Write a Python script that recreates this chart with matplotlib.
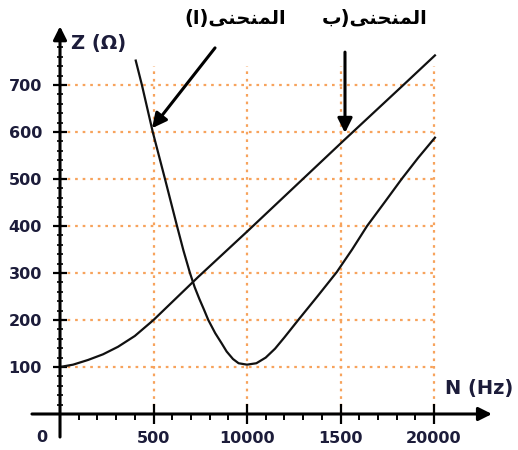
import matplotlib
matplotlib.use("Agg")
import matplotlib.pyplot as plt
from matplotlib.ticker import FixedLocator

# ---- data ----
freq_b = [0, 700, 1500, 2300, 3100, 4000, 5000, 7400, 10000, 15200, 18360, 20050]
z_b = [100, 105, 115, 127, 143, 166, 200, 292, 388, 583, 700, 763]

freq_a = [4050, 4380, 4960, 5615, 6257, 6600, 6950, 7200, 7450, 7700, 7930,
          8300, 8650, 8910, 9250, 9550, 10000, 10500, 11000, 11500, 12000,
          12400, 12740, 13800, 14800, 15620, 16420, 17350, 18270, 19150, 20050]
z_a = [752, 700, 600, 500, 400, 348, 300, 270, 245, 222, 200,
       172, 150, 133, 117, 108, 105, 108, 120, 139, 163,
       183, 200, 252, 302, 350, 400, 450, 500, 545, 588]

x_ticks = [5000, 10000, 15000, 20000]
x_tick_labels = ["500", "10000", "1500", "20000"]
y_ticks = [100, 200, 300, 400, 500, 600, 700]
y_tick_labels = ["100", "200", "300", "400", "500", "600", "700"]

# Arabic labels pre-shaped (presentation forms, visual order)
word = "\uFEF0\uFEE8\uFEA4\uFEE8\uFEE4\uFEDF\uFE8D"  # المنحنى
label_a = "(\uFE8D)" + word
label_b = "\uFE8F)" + word

# ---- figure ----
fig = plt.figure(figsize=(5.18, 4.5), dpi=100)
ax = fig.add_axes([0, 0, 1, 1])
ax.set_xlim(-3209, 24492)
ax.set_ylim(-76.6, 880.9)

grid_c = "#f7a35c"
txt_c = "#1c1c3a"
fam = ["DejaVu Sans"]

# grid (limited box)
ax.hlines(y_ticks, 0, 20000, colors=grid_c, linestyles=(0, (1.2, 2.2)), lw=1.6, zorder=1)
ax.vlines(x_ticks, 0, 740, colors=grid_c, linestyles=(0, (1.2, 2.2)), lw=1.6, zorder=1)

# curves
ax.plot(freq_b, z_b, color="#111111", lw=1.6, zorder=3, solid_joinstyle="round")
ax.plot(freq_a, z_a, color="#111111", lw=1.6, zorder=3, solid_joinstyle="round")

# axes with arrows
for s in ax.spines.values():
    s.set_visible(False)
ax.spines["left"].set_position(("data", 0))
ax.spines["bottom"].set_position(("data", 0))
ax.annotate("", xy=(0, 825), xytext=(0, -49),
            arrowprops=dict(arrowstyle="-|>", lw=2.2, color="black",
                            mutation_scale=20, shrinkA=0, shrinkB=0), zorder=4)
ax.annotate("", xy=(23100, 0), xytext=(-1500, 0),
            arrowprops=dict(arrowstyle="-|>", lw=2.2, color="black",
                            mutation_scale=20, shrinkA=0, shrinkB=0), zorder=4)

# ticks
ax.xaxis.set_major_locator(FixedLocator(x_ticks))
ax.xaxis.set_minor_locator(FixedLocator([v for v in range(1000, 21000, 1000) if v % 5000]))
ax.set_xticklabels(x_tick_labels)
ax.yaxis.set_major_locator(FixedLocator(y_ticks))
ax.yaxis.set_minor_locator(FixedLocator([v for v in range(20, 800, 20) if v % 100]))
ax.set_yticklabels(y_tick_labels)
ax.tick_params(axis="x", which="major", direction="inout", length=14, width=1.6,
               labelsize=11.5, pad=5, labelcolor=txt_c)
ax.tick_params(axis="x", which="minor", direction="out", length=4, width=1.4)
ax.tick_params(axis="y", which="major", direction="inout", length=10, width=1.6,
               labelsize=11.5, pad=8, labelcolor=txt_c)
ax.tick_params(axis="y", which="minor", direction="inout", length=5, width=1.2)
for lab in ax.get_xticklabels() + ax.get_yticklabels():
    lab.set_fontfamily(fam)
    lab.set_fontweight("bold")

ax.text(-963, -49, "0", ha="center", va="center", fontsize=11.5, fontweight="bold",
        color=txt_c, family=fam)

# axis titles
ax.text(600, 788, "Z (\u03a9)", ha="left", va="center", fontsize=14, fontweight="bold",
        color=txt_c, family=fam)
ax.text(22400, 55, "N (Hz)", ha="center", va="center", fontsize=14, fontweight="bold",
        color=txt_c, family=fam)

# curve labels with arrows
ax.text(9358, 842, label_a, ha="center", va="center", fontsize=14, fontweight="bold",
        color="black", family=fam)
ax.text(16845, 842, label_b, ha="center", va="center", fontsize=14, fontweight="bold",
        color="black", family=fam)
ax.annotate("", xy=(4920, 608), xytext=(8290, 779),
            arrowprops=dict(arrowstyle="-|>", lw=2.2, color="black",
                            mutation_scale=22, shrinkA=0, shrinkB=0), zorder=5)
ax.annotate("", xy=(15240, 598), xytext=(15240, 770),
            arrowprops=dict(arrowstyle="-|>", lw=2.2, color="black",
                            mutation_scale=22, shrinkA=0, shrinkB=0), zorder=5)

fig.savefig("out.png", dpi=100)
